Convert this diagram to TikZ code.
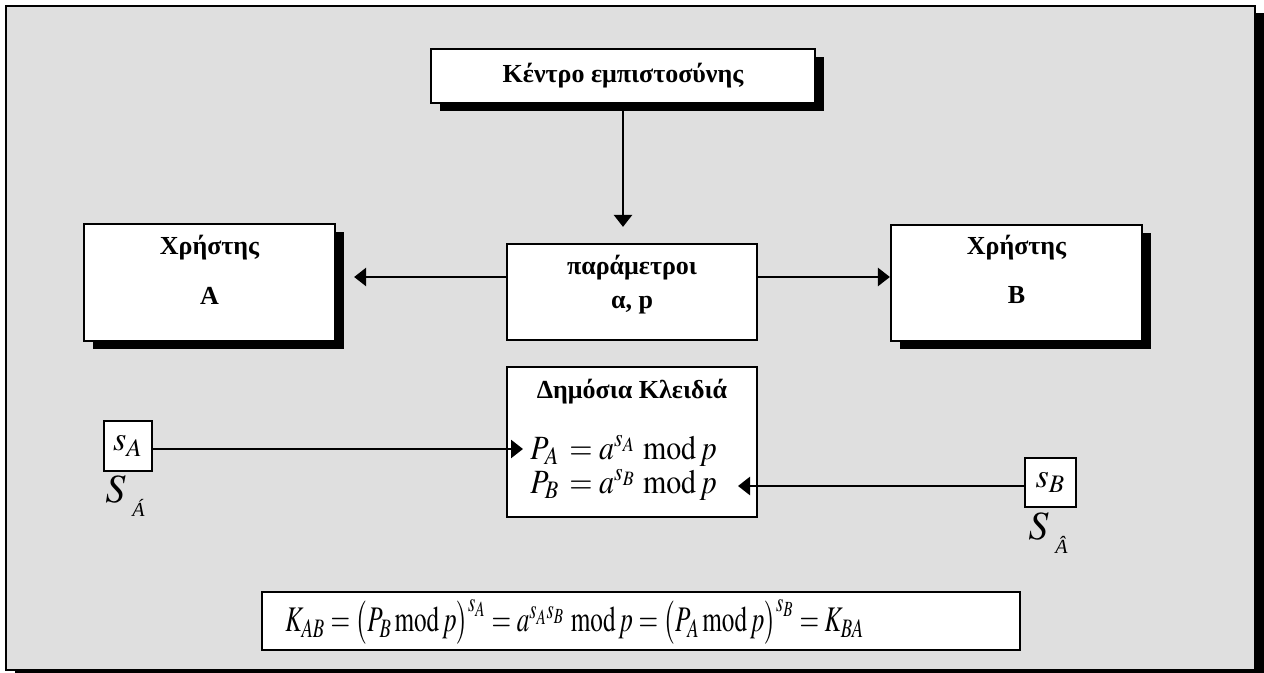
\documentclass[tikz,border=0pt]{standalone}
\usepackage{mathptmx}
\usepackage{fontspec}
\setmainfont{Liberation Serif}
\usetikzlibrary{arrows.meta,shadows}
\definecolor{panel}{HTML}{DFDFDF}

\tikzset{
  box/.style={draw=black, line width=1.1pt, fill=white, inner sep=0pt},
  shadowbox/.style={box, drop shadow={shadow xshift=4.5pt, shadow yshift=-4.25pt, fill=black, opacity=1}},
  title/.style={font=\fontsize{13}{17}\selectfont\bfseries, inner sep=0pt, align=center},
  eqn/.style={font=\fontsize{17}{19}\selectfont, inner sep=0pt},
  arr/.style={line width=1.3pt, -{Triangle[length=6pt,width=9pt]}},
}

\begin{document}
\begin{tikzpicture}[x=0.5pt, y=-0.5pt]
  \useasboundingbox (0,0) rectangle (1264,673);

  % panel with its dark shadow edge
  \fill[black] (15,13) rectangle (1264,673);
  \filldraw[fill=panel, draw=black, line width=1pt] (6,6) rectangle (1255,670);

  % trust centre
  \node[shadowbox, title, minimum width=192pt, minimum height=27pt] (tc) at (623,76) {Κέντρο εμπιστοσύνης};

  % users
  \node[shadowbox, minimum width=125.5pt, minimum height=58.5pt] (ua) at (209.5,282.5) {};
  \node[title] (uaname) at (209.5,248) {Χρήστης};
  \node[title] (ualetter) at (209.5,296) {A};

  \node[shadowbox, minimum width=125.5pt, minimum height=58pt] (ub) at (1016.5,283) {};
  \node[title] (ubname) at (1016.5,248) {Χρήστης};
  \node[title] (ubletter) at (1016.5,295) {B};

  % public parameters
  \node[box, minimum width=125pt, minimum height=48pt] (par) at (632,292) {};
  \node[title] (partext) at (632,285) {παράμετροι\\α, p};

  % public keys
  \node[box, minimum width=125pt, minimum height=75pt] (pk) at (632,442) {};
  \node[title] (pktitle) at (632,392) {Δημόσια Κλειδιά};
  \node[eqn, anchor=west] (pa) at (530,451) {\scalebox{0.88}[1]{$P_A \,= a^{s_A}\ \mathrm{mod}\, p$}};
  \node[eqn, anchor=west] (pb) at (530,485) {\scalebox{0.88}[1]{$P_B \,= a^{s_B}\ \mathrm{mod}\, p$}};
  \coordinate (pain) at (523,449);
  \coordinate (pbin) at (738,486);

  % secret keys
  \node[box, eqn, minimum width=24pt, minimum height=25pt] (sa) at (128,446) {$s_A$};
  \node[inner sep=0pt] (salabel) at (125,496) {\fontsize{20}{20}\selectfont$S$\,\raisebox{-0.8ex}{\fontsize{10}{10}\selectfont\itshape Á}};
  \node[box, eqn, minimum width=25.5pt, minimum height=24.5pt] (sb) at (1050.5,482.5) {$s_B$};
  \node[inner sep=0pt] (sblabel) at (1048,533) {\fontsize{20}{20}\selectfont$S$\,\raisebox{-0.8ex}{\fontsize{10}{10}\selectfont\itshape Â}};

  % shared key
  \node[box, minimum width=379pt, minimum height=29pt] (kf) at (641,621) {};
  \node[inner sep=0pt, anchor=west, font=\fontsize{18}{20}\selectfont] (kformula) at (285,622)
    {\scalebox{0.7}[1]{$K_{AB} = \bigl(P_B \,\mathrm{mod}\, p\bigr)^{s_A} = a^{s_A s_B}\ \mathrm{mod}\, p = \bigl(P_A \,\mathrm{mod}\, p\bigr)^{s_B} = K_{BA}$}};

  % connectors
  \draw[arr] (tc.south) -- ([yshift=8pt]tc.south |- par.north);
  \draw[arr, shorten >=9pt] ([yshift=7.5pt]par.west) -- ([yshift=7.5pt]par.west -| ua.east);
  \draw[arr] ([yshift=7.5pt]par.east) -- ([yshift=7.5pt]par.east -| ub.west);
  \draw[arr] (sa.east |- pain) -- (pain);
  \draw[arr] (sb.west |- pbin) -- (pbin);
\end{tikzpicture}
\end{document}
